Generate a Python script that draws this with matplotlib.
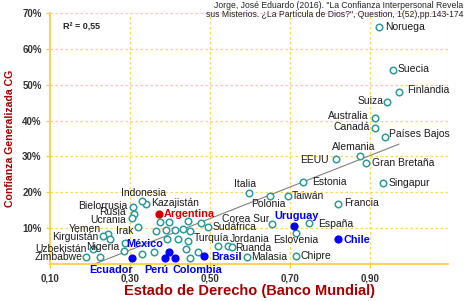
import matplotlib
matplotlib.use("Agg")
import matplotlib.pyplot as plt
import numpy as np

plt.rcParams['font.family'] = ['Liberation Sans', 'DejaVu Sans']

# labelled countries (Estado de Derecho, Confianza %)
countries = ["Noruega", "Suecia", "Finlandia", "Suiza", "Australia", "Canadá",
             "Países Bajos", "Alemania", "Gran Bretaña", "EEUU", "Singapur",
             "Francia", "España", "Eslovenia", "Chipre", "Estonia", "Taiwán",
             "Polonia", "Italia", "Corea Sur", "Sudáfrica", "Turquía",
             "Jordania", "Ruanda", "Malasia", "Kazajistán", "Indonesia",
             "Bielorrusia", "Rusia", "Ucrania", "Irak", "Yemen", "Kirguistán",
             "Nigeria", "Uzbekistán", "Zimbabwe"]
rule_law = [0.922, 0.957, 0.972, 0.942, 0.912, 0.912,
            0.937, 0.875, 0.89, 0.815, 0.932,
            0.82, 0.747, 0.715, 0.715, 0.732, 0.695,
            0.65, 0.597, 0.655, 0.495, 0.445,
            0.545, 0.555, 0.592, 0.34, 0.33,
            0.307, 0.31, 0.305, 0.32, 0.245, 0.232,
            0.287, 0.207, 0.19]
trust = [66.1, 54.2, 48.1, 45.3, 40.6, 37.8,
         35.3, 30.0, 28.3, 29.4, 22.5,
         16.7, 11.4, 8.6, 2.2, 22.8, 18.9,
         18.9, 19.7, 11.1, 10.3, 6.4,
         5.0, 4.7, 1.9, 16.7, 17.5,
         15.8, 13.9, 12.8, 10.3, 8.3, 7.8,
         5.8, 4.2, 1.9]

# other countries without label
other_x = [0.25, 0.225, 0.285, 0.33, 0.36, 0.375, 0.397, 0.445, 0.477,
           0.365, 0.39, 0.412, 0.432, 0.45, 0.392, 0.42, 0.44, 0.47,
           0.45, 0.52]
other_y = [6.9, 1.9, 3.6, 2.9, 3.3, 11.7, 11.7, 11.9, 11.4,
           9.2, 9.4, 9.4, 9.7, 9.2, 6.9, 6.9, 4.2, 3.3,
           1.7, 5.0]

# Latin America highlighted
latam = ["México", "Ecuador", "Perú", "Colombia", "Brasil", "Uruguay", "Chile"]
latam_x = [0.397, 0.305, 0.387, 0.412, 0.485, 0.71, 0.82]
latam_y = [3.3, 1.7, 1.7, 1.7, 2.2, 10.6, 6.9]
arg_x, arg_y = 0.372, 13.9

# label placement: ha, dx, dy (pixels)
lab_pos = {
    "Noruega": ("left", 6, 0), "Suecia": ("left", 5, 1), "Finlandia": ("left", 8, 2),
    "Suiza": ("right", -3, 1), "Australia": ("right", -6, 2), "Canadá": ("right", -5, 1),
    "Países Bajos": ("left", 4, 3), "Alemania": ("center", -6, 9),
    "Gran Bretaña": ("left", 6, 0), "EEUU": ("right", -7, -1), "Singapur": ("left", 6, 0),
    "Francia": ("left", 6, 1), "España": ("left", 9, -1), "Eslovenia": ("center", 0, -7),
    "Chipre": ("left", 5, 0), "Estonia": ("left", 9, 0), "Taiwán": ("left", 4, 0),
    "Polonia": ("center", -2, -8), "Italia": ("center", -4, 9), "Corea Sur": ("right", -3, 5),
    "Sudáfrica": ("left", 5, 0), "Turquía": ("left", 6, 3), "Jordania": ("left", 2, 7),
    "Ruanda": ("left", 3, -1), "Malasia": ("left", 4, 0), "Kazajistán": ("left", 5, 1),
    "Indonesia": ("center", 2, 8), "Bielorrusia": ("right", -5, 1), "Rusia": ("right", -8, 2),
    "Ucrania": ("right", -6, -2), "Irak": ("right", -5, -4), "Yemen": ("right", -7, 5),
    "Kirguistán": ("right", -4, -1), "Nigeria": ("right", -6, -4),
    "Uzbekistán": ("right", -6, 0), "Zimbabwe": ("right", -3, 0),
    "México": ("right", -6, 8), "Ecuador": ("center", -21, -12), "Perú": ("center", -8, -12),
    "Colombia": ("center", 23, -12), "Brasil": ("left", 7, -1), "Uruguay": ("center", 3, 10),
    "Chile": ("left", 6, -1),
}

teal = "#2E9A9A"
dred = "#A80000"
grid_c = "#FFD75A"

fig = plt.figure(figsize=(4.70, 3.01), dpi=100)
ax = fig.add_axes([50/470, 1-264/301, 398/470, 251/301])

all_x = np.array(rule_law + other_x + latam_x + [arg_x])
all_y = np.array(trust + other_y + latam_y + [arg_y])
m, b = np.polyfit(all_x, all_y, 1)
xx = np.array([all_x.min(), all_x.max()])
ax.plot(xx, m*xx + b, color="#808080", lw=0.8, zorder=2)

ax.scatter(rule_law + other_x, trust + other_y, s=22, facecolors="white",
           edgecolors=teal, linewidths=1.1, zorder=3)
ax.scatter(latam_x, latam_y, s=24, color="#0000FF", zorder=4)
ax.scatter([arg_x], [arg_y], s=24, color="#D00000", zorder=4)

px = 0.72
for name, x, y in zip(countries, rule_law, trust):
    ha, dx, dy = lab_pos[name]
    ax.annotate(name, (x, y), xytext=(dx*px, dy*px), textcoords="offset points",
                ha=ha, va="center", fontsize=7.5, color="#1a1a1a", zorder=5)
for name, x, y in zip(latam, latam_x, latam_y):
    ha, dx, dy = lab_pos[name]
    ax.annotate(name, (x, y), xytext=(dx*px, dy*px), textcoords="offset points",
                ha=ha, va="center", fontsize=7.8, color="#0000FF",
                fontweight="bold", zorder=5)
ax.annotate("Argentina", (arg_x, arg_y), xytext=(5*px, 0), textcoords="offset points",
            ha="left", va="center", fontsize=7.8, color="#D00000",
            fontweight="bold", zorder=5)

ax.set_xlim(0.1, 1.095)
ax.set_ylim(0, 70)
ax.set_xticks([0.1, 0.3, 0.5, 0.7, 0.9])
ax.set_xticklabels(["0,10", "0,30", "0,50", "0,70", "0,90"])
ax.set_yticks([10, 20, 30, 40, 50, 60, 70])
ax.set_yticklabels(["10%", "20%", "30%", "40%", "50%", "60%", "70%"])
for v in [0.3, 0.5, 0.7, 0.9, 1.095]:
    ax.axvline(v, color=grid_c, lw=0.9, ls=(0, (2, 2)), zorder=1)
for v in [10, 20, 30, 40, 50, 60, 70]:
    ax.axhline(v, color=grid_c, lw=0.9, ls=(0, (2, 2)), zorder=1)

ax.tick_params(axis="both", colors="#FFC830", length=3, width=0.8,
               labelcolor="#333333", labelsize=7)
ax.tick_params(axis="x", pad=3.5)
ax.tick_params(axis="y", pad=3)
for lab in ax.get_xticklabels() + ax.get_yticklabels():
    lab.set_fontweight("bold")
for s in ["top", "right"]:
    ax.spines[s].set_visible(False)
for s in ["left", "bottom"]:
    ax.spines[s].set_color("#FFCC33")
    ax.spines[s].set_linewidth(1.2)

ax.set_xlabel("Estado de Derecho (Banco Mundial)", fontsize=10.5, fontweight="bold",
              color=dred, labelpad=0.5)
ax.set_ylabel("Confianza Generalizada CG", fontsize=7.6, fontweight="bold",
              color=dred, labelpad=5.5)

ax.text(0.033, 0.944, "R² = 0,55", transform=ax.transAxes, fontsize=6.5,
        fontweight="bold", color="#222222", va="center")
fig.text(463/470, 1-1/301, "Jorge, José Eduardo (2016). \"La Confianza Interpersonal Revela\n"
         "sus Misterios. ¿La Partícula de Dios?\", Question, 1(52),pp.143-174",
         ha="right", va="top", fontsize=6.2, color="#222222", linespacing=1.05)

plt.savefig("out.png", dpi=100)
